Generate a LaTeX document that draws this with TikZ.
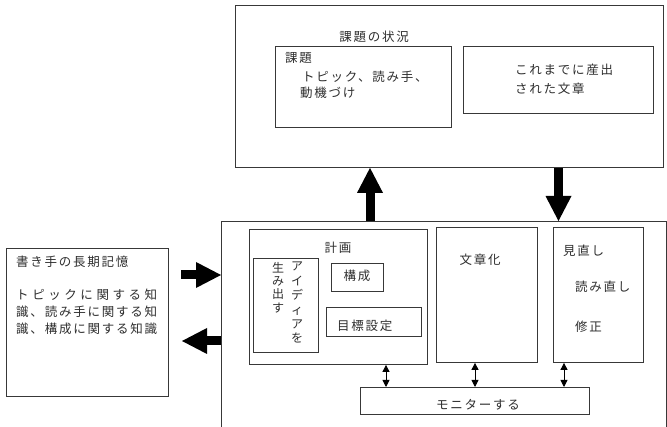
\documentclass[tikz,border=0pt]{standalone}
\usepackage{fontspec}
\newfontfamily\jp[LetterSpace=14]{Noto Sans CJK JP}
\newfontfamily\jpn{Noto Sans CJK JP}
\usetikzlibrary{arrows.meta}
\def\jspA#1{#1\jspB}
\def\jspB#1{\ifx\relax#1\else\hfil#1\expandafter\jspB\fi}
\newcommand\jspread[2]{\makebox[#1][s]{\jspA#2\relax}}
\tikzset{
  box/.style={draw=black!78, line width=0.9pt, inner sep=0pt, anchor=north west},
  txt/.style={font=\jp\fontsize{12.5}{15}\selectfont, text=black!82, inner sep=0pt},
  ltxt/.style={txt, anchor=west},
  bigarrow/.style={line width=9pt, draw=black, -{Triangle[length=25pt,width=26pt,line width=0pt]}},
  dbl/.style={line width=0.9pt, draw=black, {Triangle[length=7pt,width=7pt]}-{Triangle[length=7pt,width=7pt]}},
}
\begin{document}
\begin{tikzpicture}[x=1pt,y=-1pt]
\useasboundingbox[fill=white] (0,0) rectangle (667,427);
% boxes
\node[box, minimum width=428pt, minimum height=162pt] (task) at (235,5) {};
\node[box, minimum width=176pt, minimum height=81pt] (issue) at (275,46) {};
\node[box, minimum width=190pt, minimum height=67pt] (prod) at (463,46) {};
\node[box, minimum width=162pt, minimum height=148pt] (mem) at (6,248) {};
\node[box, minimum width=444.5pt, minimum height=230pt] (proc) at (221,221) {};
\node[box, minimum width=178pt, minimum height=135pt] (plan) at (249,229) {};
\node[box, minimum width=65pt, minimum height=94pt] (idea) at (253,258) {};
\node[box, minimum width=52pt, minimum height=28pt] (struct) at (331,263) {};
\node[box, minimum width=95pt, minimum height=29pt] (goal) at (326,307) {};
\node[box, minimum width=101pt, minimum height=135pt] (trans) at (436,227) {};
\node[box, minimum width=90pt, minimum height=135pt] (review) at (553,227) {};
\node[box, minimum width=229pt, minimum height=27pt] (mon) at (360,387) {};
% texts top
\node[txt] (tTask) at (374,37) {課題の状況};
\node[ltxt] (tIssue) at (285,58) {課題};
\node[ltxt] (tIssue2) at (302,77) {トピック、読み手、};
\node[ltxt] (tIssue3) at (300,93) {動機づけ};
\node[ltxt] (tProd1) at (515,70) {これまでに産出};
\node[ltxt] (tProd2) at (515,89) {された文章};
% memory
\node[ltxt] (tMem) at (16,262) {書き手の長期記憶};
\node[txt, anchor=west, font=\jpn\fontsize{12.5}{15}\selectfont] (tMem2) at (16,295) {\jspread{141pt}{トピックに関する知}};
\node[txt, anchor=west, font=\jpn\fontsize{12.5}{15}\selectfont] (tMem3) at (16,312) {\jspread{141pt}{識、読み手に関する知}};
\node[txt, anchor=west, font=\jpn\fontsize{12.5}{15}\selectfont] (tMem4) at (16,329) {\jspread{141pt}{識、構成に関する知識}};
% process texts
\node[txt] (tPlan) at (338,248) {計画};
\node[txt, anchor=north, align=center, font=\jpn\fontsize{12}{14.4}\selectfont] (tIdeaA) at (297,262) {ア\\イ\\デ\\ィ\\ア\\を};
\node[txt, anchor=north, align=center, font=\jpn\fontsize{12}{13.3}\selectfont] (tIdeaB) at (278,262) {生\\み\\出\\す};
\node[txt] (tStruct) at (357,276) {構成};
\node[ltxt] (tGoal) at (337,326) {目標設定};
\node[txt] (tTrans) at (480,260) {文章化};
\node[ltxt] (tRev1) at (563,251) {見直し};
\node[ltxt] (tRev2) at (575,287) {読み直し};
\node[ltxt] (tRev3) at (575,327) {修正};
\node[txt] (tMon) at (478,405) {モニターする};
% thick arrows
\coordinate (upx) at (370,0);
\coordinate (dnx) at (558.5,0);
\draw[bigarrow] (proc.north -| upx) -- (task.south -| upx);
\draw[bigarrow] (task.south -| dnx) -- (proc.north -| dnx);
\coordinate (inT) at (181,275);
\coordinate (outT) at (182,341);
\draw[bigarrow] (inT) -- (proc.west |- inT);
\draw[bigarrow] (proc.west |- outT) -- (outT);
% double arrows
\coordinate (a1) at (386,0);
\coordinate (a2) at (475,0);
\coordinate (a3) at (564,0);
\draw[dbl] (plan.south -| a1) -- (mon.north -| a1);
\draw[dbl] (trans.south -| a2) -- (mon.north -| a2);
\draw[dbl] (review.south -| a3) -- (mon.north -| a3);
\end{tikzpicture}
\end{document}
